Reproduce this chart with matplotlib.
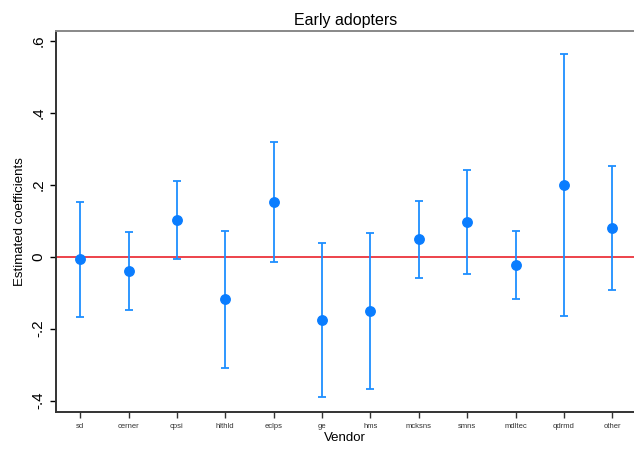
import matplotlib.pyplot as plt

plt.rcParams['font.family'] = ['Liberation Sans', 'DejaVu Sans']

# vendor coefficients with confidence bounds
vendors = ['sd', 'cerner', 'cpsi', 'hlthld', 'eclps', 'ge', 'hms',
           'mcksns', 'smns', 'mdltec', 'qdrmd', 'other']
coef = [-0.007, -0.039, 0.102, -0.118, 0.152, -0.176, -0.151,
        0.048, 0.096, -0.023, 0.199, 0.080]
upper = [0.153, 0.069, 0.210, 0.072, 0.319, 0.037, 0.067,
         0.155, 0.242, 0.070, 0.564, 0.251]
lower = [-0.169, -0.147, -0.006, -0.309, -0.015, -0.389, -0.368,
         -0.058, -0.049, -0.117, -0.166, -0.092]

xs = list(range(1, len(vendors) + 1))
err_lo = [c - l for c, l in zip(coef, lower)]
err_hi = [u - c for c, u in zip(coef, upper)]

fig = plt.figure(figsize=(6.34, 4.49), dpi=100)
ax = fig.add_axes([0.0891, 0.0831, 0.911, 0.8485])

ax.axhline(0, color='#e8101a', lw=1.1, zorder=1)
ax.errorbar(xs, coef, yerr=[err_lo, err_hi], fmt='none', ecolor='#1e8fff',
            elinewidth=1.3, capsize=3.2, capthick=1.3, zorder=2)
ax.plot(xs, coef, 'o', color='#0a7dff', ms=6.8, zorder=3)

ax.set_xlim(0.51, 12.45)
ax.set_ylim(-0.431, 0.628)
ax.set_xticks(xs)
ax.set_xticklabels(vendors, fontsize=5.5, color='#333333')
ax.set_yticks([-0.4, -0.2, 0, 0.2, 0.4, 0.6])
ax.set_yticklabels(['-.4', '-.2', '0', '.2', '.4', '.6'], rotation=90,
                   va='center', fontsize=11)
ax.tick_params(axis='x', length=4, width=1, pad=4, colors='#333333')
ax.tick_params(axis='y', length=4, width=1, pad=4)

ax.set_xlabel('Vendor', fontsize=9.5, labelpad=1.5)
ax.set_ylabel('Estimated coefficients', fontsize=9.5, labelpad=4)
ax.set_title('Early adopters', fontsize=11.5, pad=4)

for s in ['left', 'bottom']:
    ax.spines[s].set_color('#333333')
    ax.spines[s].set_linewidth(1.4)
ax.spines['top'].set_color('#888888')
ax.spines['top'].set_linewidth(1.4)
ax.spines['right'].set_visible(False)

fig.savefig('out.png', dpi=100)
